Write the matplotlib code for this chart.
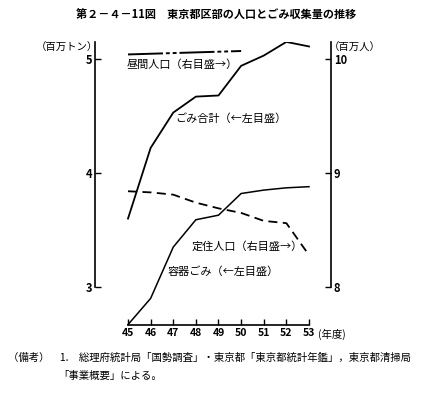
import matplotlib.pyplot as plt

plt.rcParams['font.family'] = ['Noto Sans CJK JP', 'DejaVu Sans']

# Data (年度 = Showa fiscal years)
years = [45, 46, 47, 48, 49, 50, 51, 52, 53]
gomi_total = [3.60, 4.22, 4.53, 4.67, 4.68, 4.94, 5.03, 5.15, 5.11]        # 百万トン
gomi_container = [2.67, 2.90, 3.35, 3.59, 3.63, 3.82, 3.85, 3.87, 3.88]    # 百万トン
resident_pop = [8.84, 8.83, 8.81, 8.74, 8.69, 8.65, 8.58, 8.56, 8.28]      # 百万人
day_years = [45, 50]
day_pop = [10.04, 10.07]                                                   # 百万人

W, H = 432, 393
fig = plt.figure(figsize=(W / 100, H / 100), dpi=100)

def px(x, y):
    return x / W, 1 - y / H

# axes box: left spine x=95, right spine x=331, bottom y=325, top y=42
ax = fig.add_axes([95 / W, 1 - 325 / H, (331 - 95) / W, (325 - 42) / H])
ax2 = ax.twinx()

ax.set_xlim(45 - 33 / 22.625, 53 + 22 / 22.625)
ax.set_ylim(3 - 38 / 114, 3 + 245 / 114)
ax2.set_ylim(8 - 38 / 114, 8 + 245 / 114)

ax.plot(years, gomi_total, color='black', lw=1.3)
ax.plot(years, gomi_container, color='black', lw=1.1)
ax2.plot(years, resident_pop, color='black', lw=1.3, dashes=(5, 3))
ax2.plot(day_years, day_pop, color='black', lw=1.4, dashes=(18, 1.5, 2, 1.5, 2, 1.5))

for a in (ax, ax2):
    a.spines['top'].set_visible(False)
ax.spines['right'].set_visible(False)
ax2.spines['left'].set_visible(False)
ax2.spines['bottom'].set_visible(False)
ax.spines['left'].set_bounds(3, 5.15)
ax2.spines['right'].set_bounds(8, 10.15)
ax.spines['bottom'].set_bounds(45, 53)
for s in ('left', 'bottom'):
    ax.spines[s].set_linewidth(1.2)
ax2.spines['right'].set_linewidth(1.2)

ax.set_yticks([3, 4, 5])
ax2.set_yticks([8, 9, 10])
ax.set_xticks(years)
ax.tick_params(axis='y', direction='in', length=4, width=1, labelsize=8, pad=2)
ax2.tick_params(axis='y', direction='in', length=4, width=1, labelsize=8, pad=2)
ax.tick_params(axis='x', direction='in', length=4, width=1, labelsize=7.5, pad=2)
for lab in ax.get_yticklabels() + ax2.get_yticklabels() + ax.get_xticklabels():
    lab.set_fontweight('bold')

# texts
fig.text(*px(216, 15), '第２－４－11図　東京都区部の人口とごみ収集量の推移',
         ha='center', va='center', fontsize=8, fontweight='bold')
fig.text(*px(67, 48), '（百万トン）', ha='center', va='center', fontsize=7.5)
fig.text(*px(355, 48), '（百万人）', ha='center', va='center', fontsize=7.5)
fig.text(*px(318, 334), '(年度)', ha='left', va='center', fontsize=7.5)

fig.text(*px(127, 65), '昼間人口（右目盛→）', ha='left', va='center', fontsize=8)
fig.text(*px(175, 119), 'ごみ合計（←左目盛）', ha='left', va='center', fontsize=8)
fig.text(*px(192, 246), '定住人口（右目盛→）', ha='left', va='center', fontsize=8)
fig.text(*px(167, 272), '容器ごみ（←左目盛）', ha='left', va='center', fontsize=8)

fig.text(*px(8, 358), '（備考）　1.　総理府統計局「国勢調査」・東京都「東京都統計年鑑」，東京都清掃局',
         ha='left', va='center', fontsize=7.5)
fig.text(*px(58, 376), '「事業概要」による。', ha='left', va='center', fontsize=7.5)

fig.savefig('out.png', dpi=100)
